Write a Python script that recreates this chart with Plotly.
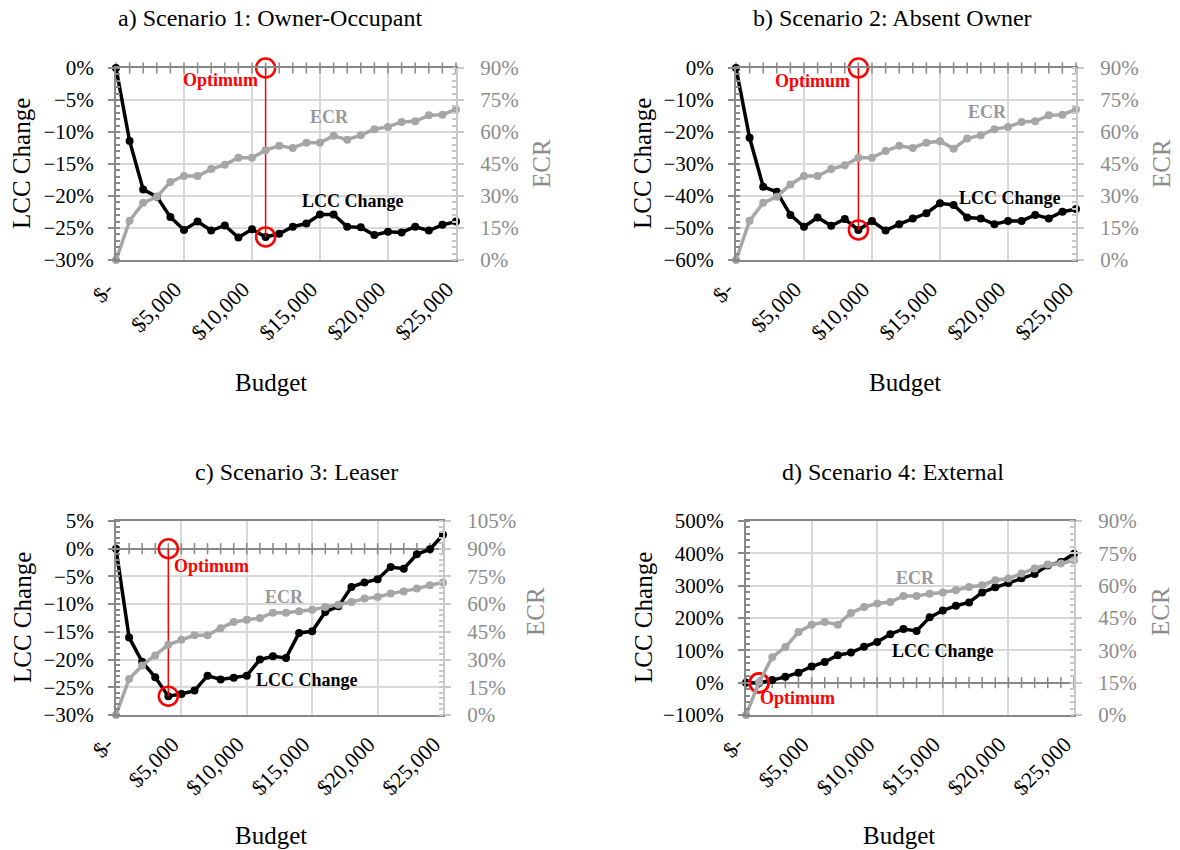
import plotly.graph_objects as go
from plotly.subplots import make_subplots

# ---------------- data ----------------
budget = [i * 1000 for i in range(26)]
x_tickvals = [0, 5000, 10000, 15000, 20000, 25000]
x_ticktext = ["$-", "$5,000", "$10,000", "$15,000", "$20,000", "$25,000"]

titles = ["a) Scenario 1: Owner-Occupant", "b) Scenario 2: Absent Owner",
          "c) Scenario 3: Leaser", "d) Scenario 4: External"]

lcc_a = [0, -11.4, -19.0, -20.1, -23.3, -25.3, -24.0, -25.4, -24.6, -26.5, -25.2, -26.4, -25.9,
         -24.8, -24.3, -22.9, -22.9, -24.8, -24.9, -26.1, -25.6, -25.7, -24.8, -25.4, -24.5, -24.0]
ecr_a = [0, 18.4, 26.8, 29.6, 36.6, 39.4, 39.4, 42.6, 44.7, 47.9, 47.9, 51.5, 53.5,
         52.5, 55.0, 55.0, 58.2, 56.4, 58.5, 61.3, 62.4, 64.7, 65.0, 67.8, 68.1, 70.6]

lcc_b = [0, -21.8, -37.1, -38.7, -45.9, -49.6, -46.7, -49.3, -47.2, -50.6, -47.8, -50.8, -48.8,
         -47.0, -45.4, -42.3, -42.8, -46.7, -47.0, -48.8, -47.8, -47.8, -45.9, -47.0, -44.9, -44.1]
ecr_b = [0, 18.4, 26.8, 29.6, 35.4, 39.4, 39.4, 42.6, 44.4, 47.9, 47.9, 51.1, 53.5,
         52.5, 55.0, 55.7, 52.2, 56.9, 58.5, 61.3, 62.4, 64.7, 65.0, 67.8, 68.1, 70.6]

lcc_c = [0, -16.0, -20.4, -23.2, -26.6, -26.2, -25.6, -22.9, -23.6, -23.3, -22.9, -20.0, -19.4,
         -19.7, -15.2, -14.9, -11.4, -10.4, -6.9, -6.1, -5.5, -3.3, -3.6, -1.0, -0.1, 2.5]
ecr_c = [0, 19.5, 26.8, 32.2, 38.0, 40.7, 43.1, 43.1, 47.0, 50.3, 51.6, 52.5, 55.4,
         55.4, 56.1, 57.0, 58.4, 59.7, 61.2, 63.0, 63.9, 65.7, 66.9, 68.4, 70.2, 71.7]

lcc_d = [0, -1, 8, 18, 31, 50, 64, 85, 93, 111, 126, 150, 166,
         160, 202, 223, 238, 248, 279, 295, 308, 323, 336, 362, 373, 399]
ecr_d = [0, 15.2, 26.8, 31.5, 38.5, 41.9, 43.1, 41.9, 47.3, 50.1, 51.7, 52.4, 55.2,
         55.2, 56.3, 56.8, 57.9, 59.4, 60.2, 62.5, 63.3, 65.6, 68.0, 69.8, 70.3, 71.8]

lcc_all = [lcc_a, lcc_b, lcc_c, lcc_d]
ecr_all = [ecr_a, ecr_b, ecr_c, ecr_d]
optimum_budget = [11000, 9000, 4000, 1000]

lcc_ranges = [[-30, 0], [-60, 0], [-30, 5], [-100, 500]]
lcc_dticks = [5, 10, 5, 100]
ecr_ranges = [[0, 90], [0, 90], [0, 105], [0, 90]]
ecr_dtick = 15

# ---------------- style / layout ----------------
FONT = "Liberation Serif, Times New Roman, serif"
BLACK = "#000000"
GREY = "#a6a6a6"
GREY_TXT = "#8c8c8c"
AXIS_GREY = "#888888"
AXIS_LIGHT = "#c8c8c8"
GRID = "#d9d9d9"
RED = "#ff0000"

W, H = 1180, 850
def px_x(v): return v / W
def px_y(v): return 1 - v / H

# plot areas in page pixels: (left, right, top, bottom)
areas = [(116, 456, 68, 260), (736, 1076, 68, 260),
         (116, 443, 521, 715), (746, 1074, 521, 715)]
title_pos = [(270, 18), (892, 18), (296, 472), (893, 472)]
lcc_title_pos = [(22, 164), (643, 164), (22, 618), (643, 618)]
ecr_title_pos = [(542, 164), (1162, 164), (535, 612), (1160, 612)]
budget_pos = [(271, 382), (905, 382), (271, 835), (899, 835)]
# in-plot labels (data coordinates on the left axis)
ecr_lbl = [(15700, -7.7), (18460, -13.8), (12850, -8.8), (12890, 323)]
lcc_lbl = [(17400, -20.8), (20150, -40.6), (14600, -23.7), (15020, 99)]
opt_lbl = [(7650, -1.9), (5660, -4.1), (7280, -3.2), (3900, -47)]

fig = make_subplots(rows=2, cols=2, specs=[[{"secondary_y": True}] * 2] * 2)

annotations = []
for i in range(4):
    r, c = i // 2 + 1, i % 2 + 1
    lcc, ecr = lcc_all[i], ecr_all[i]
    ob = optimum_budget[i]
    ov = lcc[budget.index(ob)]

    # ECR (secondary axis)
    fig.add_trace(go.Scatter(x=budget, y=ecr, mode="lines+markers",
                             line=dict(color=GREY, width=3.5),
                             marker=dict(color=GREY, size=8),
                             cliponaxis=False, showlegend=False, name="ECR"),
                  row=r, col=c, secondary_y=True)
    # x-axis tick marks along 0%
    fig.add_trace(go.Scatter(x=budget, y=[0] * len(budget), mode="markers",
                             marker=dict(symbol="line-ns", size=8,
                                         line=dict(color=AXIS_GREY, width=1.5)),
                             hoverinfo="skip", cliponaxis=False, showlegend=False),
                  row=r, col=c, secondary_y=False)
    # LCC change
    fig.add_trace(go.Scatter(x=budget, y=lcc, mode="lines+markers",
                             line=dict(color=BLACK, width=3.5),
                             marker=dict(color=BLACK, size=8),
                             cliponaxis=False, showlegend=False, name="LCC Change"),
                  row=r, col=c, secondary_y=False)
    # optimum marker
    fig.add_trace(go.Scatter(x=[ob, ob], y=[0, ov], mode="lines+markers",
                             line=dict(color=RED, width=1.5),
                             marker=dict(symbol="circle-open", size=19,
                                         line=dict(color=RED, width=2.5)),
                             cliponaxis=False, showlegend=False, name="Optimum"),
                  row=r, col=c, secondary_y=False)

    l, rt, t, b = areas[i]
    xa = "xaxis" if i == 0 else f"xaxis{i + 1}"
    ya = "yaxis" if i == 0 else f"yaxis{2 * i + 1}"
    ya2 = f"yaxis{2 * i + 2}"
    fig.layout[xa].update(domain=[px_x(l), px_x(rt)], range=[0, 25000], automargin=False,
                          tickvals=x_tickvals, ticktext=x_ticktext, tickangle=-45,
                          ticks="", ticklabelstandoff=6, ticklabelshift=-9,
                          showgrid=True, gridcolor=GRID, gridwidth=1.5,
                          showline=True, linecolor=AXIS_GREY, linewidth=1.5, mirror=True,
                          zeroline=False,
                          tickfont=dict(family=FONT, size=22, color=BLACK))
    fig.layout[ya].update(domain=[px_y(b), px_y(t)], range=lcc_ranges[i], automargin=False,
                          dtick=lcc_dticks[i], ticksuffix="%",
                          ticks="outside", ticklen=6, tickcolor=AXIS_GREY, tickwidth=1.5,
                          minor=dict(ticks="inside", ticklen=4, tickcolor=AXIS_GREY,
                                     dtick=lcc_dticks[i] / 5, showgrid=False),
                          showgrid=True, gridcolor=GRID, gridwidth=1.5,
                          showline=True, linecolor=AXIS_GREY, linewidth=2,
                          zeroline=True, zerolinecolor=AXIS_GREY, zerolinewidth=2,
                          ticklabelstandoff=10,
                          tickfont=dict(family=FONT, size=21, color=BLACK))
    fig.layout[ya2].update(range=ecr_ranges[i], dtick=ecr_dtick, ticksuffix="%", automargin=False,
                           ticks="outside", ticklen=6, tickcolor=AXIS_LIGHT, tickwidth=1.5,
                           minor=dict(ticks="inside", ticklen=4, tickcolor=AXIS_LIGHT,
                                      dtick=3, showgrid=False),
                           showgrid=False, zeroline=False,
                           showline=True, linecolor=AXIS_LIGHT, linewidth=2,
                           ticklabelstandoff=12,
                           tickfont=dict(family=FONT, size=21, color=GREY_TXT))

    xref = "x" if i == 0 else f"x{i + 1}"
    yref = "y" if i == 0 else f"y{2 * i + 1}"
    common = dict(showarrow=False, xanchor="center", yanchor="middle")
    annotations += [
        dict(text=titles[i], x=px_x(title_pos[i][0]), y=px_y(title_pos[i][1]),
             xref="paper", yref="paper", font=dict(family=FONT, size=24, color=BLACK), **common),
        dict(text="LCC Change", x=px_x(lcc_title_pos[i][0]), y=px_y(lcc_title_pos[i][1]),
             xref="paper", yref="paper", textangle=-90,
             font=dict(family=FONT, size=25, color=BLACK), **common),
        dict(text="ECR", x=px_x(ecr_title_pos[i][0]), y=px_y(ecr_title_pos[i][1]),
             xref="paper", yref="paper", textangle=-90,
             font=dict(family=FONT, size=25, color=GREY_TXT), **common),
        dict(text="Budget", x=px_x(budget_pos[i][0]), y=px_y(budget_pos[i][1]),
             xref="paper", yref="paper", font=dict(family=FONT, size=25, color=BLACK), **common),
        dict(text="<b>ECR</b>", x=ecr_lbl[i][0], y=ecr_lbl[i][1], xref=xref, yref=yref,
             font=dict(family=FONT, size=18, color="#999999"), **common),
        dict(text="<b>LCC Change</b>", x=lcc_lbl[i][0], y=lcc_lbl[i][1], xref=xref, yref=yref,
             font=dict(family=FONT, size=18, color=BLACK), **common),
        dict(text="<b>Optimum</b>", x=opt_lbl[i][0], y=opt_lbl[i][1], xref=xref, yref=yref,
             font=dict(family=FONT, size=18, color=RED), **common),
    ]

fig.update_layout(width=W, height=H, margin=dict(l=0, r=0, t=0, b=0),
                  paper_bgcolor="white", plot_bgcolor="white",
                  annotations=annotations, showlegend=False,
                  font=dict(family=FONT))

fig.write_html("out.html", config={"displayModeBar": False},
               post_script="document.body.style.margin='0';"
                           "document.documentElement.style.overflow='hidden';")
